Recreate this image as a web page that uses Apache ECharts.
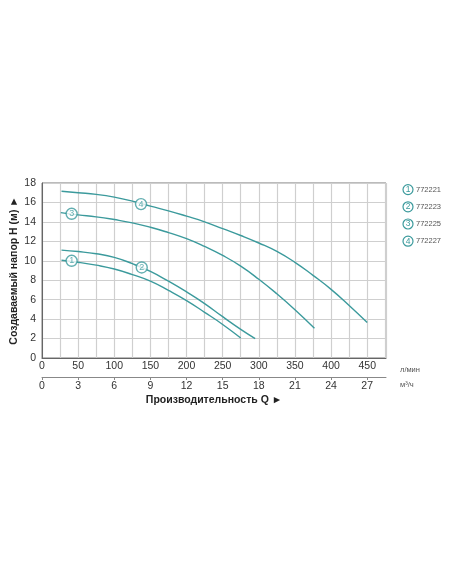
<!DOCTYPE html>
<html>
<head>
<meta charset="utf-8">
<script src="https://cdn.jsdelivr.net/npm/echarts@6/dist/echarts.min.js"></script>
<style>
html,body{margin:0;padding:0;background:#fff;}
#chart{width:452px;height:584px;}
</style>
</head>
<body>
<div id="chart"></div>
<script>
// ---- data ----
const seriesNames = ['772221', '772223', '772225', '772227'];
const curve1 = [[27,10.05],[50,9.85],[75,9.55],[100,9.15],[125,8.58],[150,7.9],[175,6.95],[200,5.9],[225,4.7],[250,3.45],[275,2.05]];
const curve2 = [[27,11.1],[50,10.95],[75,10.72],[100,10.35],[125,9.7],[150,8.9],[175,7.9],[200,6.8],[225,5.6],[250,4.25],[275,2.95],[295,2.0]];
const curve3 = [[26,14.95],[50,14.72],[75,14.52],[100,14.24],[125,13.9],[150,13.45],[175,12.9],[200,12.28],[225,11.48],[250,10.55],[275,9.45],[300,8.1],[325,6.6],[350,4.97],[377,3.06]];
const curve4 = [[27,17.15],[50,17.0],[75,16.83],[100,16.55],[125,16.14],[150,15.62],[175,15.14],[200,14.59],[225,14.0],[250,13.3],[275,12.6],[300,11.83],[325,10.96],[350,9.84],[375,8.5],[400,7.06],[425,5.4],[450,3.65]];
const curveTags = ['1', '2', '3', '4'];
const tagPoints = [[41,10.0],[138,9.31],[41,14.83],[137,15.83]];
const flowMaxLpm = 476;          // л/мин axis max
const lpmPerM3h = 1000 / 60;     // 1 м³/ч = 16.67 л/мин
const yTitle = 'Создаваемый напор H (м) ►';
const xTitle = 'Производительность Q ►';
const unitLpm = 'л/мин';
const unitM3h = 'м³/ч';

// ---- chart ----
const TEAL = '#3b9a9c';
const FONT = '"Liberation Sans", Arial, sans-serif';
const curves = [curve1, curve2, curve3, curve4];
const chart = echarts.init(document.getElementById('chart'), null, {renderer: 'canvas'});

const lineSeries = curves.map((c, i) => ({
  name: seriesNames[i],
  type: 'line',
  data: c,
  smooth: 0.5,
  symbol: 'none',
  lineStyle: {color: TEAL, width: 1.4},
  itemStyle: {color: TEAL},
  z: 3
}));

const tagSeries = {
  name: 'tags',
  type: 'scatter',
  data: tagPoints.map((p, i) => ({value: p, tag: curveTags[i]})),
  symbol: 'circle',
  symbolSize: 11,
  itemStyle: {color: '#ffffff', borderColor: TEAL, borderWidth: 1.4},
  label: {
    show: true, position: 'inside',
    formatter: p => p.data.tag,
    color: TEAL, fontSize: 9, fontFamily: FONT
  },
  z: 5
};

chart.setOption({
  animation: false,
  backgroundColor: '#ffffff',
  textStyle: {fontFamily: FONT},
  grid: {left: 42, top: 183, right: 66, bottom: 226, show: true, borderColor: '#777', borderWidth: 1,
         containLabel: false, outerBoundsMode: 'none'},
  legend: {
    data: seriesNames,
    orient: 'vertical',
    left: 392,
    top: 179,
    itemGap: 6,
    icon: 'rect',
    itemWidth: 1,
    itemHeight: 1,
    itemStyle: {opacity: 0},
    selectedMode: false,
    formatter: name => '{n|' + curveTags[seriesNames.indexOf(name)] + '}{t|' + name + '}',
    textStyle: {
      rich: {
        n: {width: 10, height: 10, lineHeight: 10, borderRadius: 6, borderColor: TEAL, borderWidth: 1.2,
            align: 'center', color: TEAL, fontSize: 8.5, fontFamily: FONT},
        t: {fontSize: 7.5, color: '#555', fontFamily: FONT, padding: [0, 0, 0, 3]}
      }
    }
  },
  xAxis: [
    {
      type: 'value', min: 0, max: flowMaxLpm, interval: 25,
      axisLine: {show: true, lineStyle: {color: '#666'}},
      axisTick: {show: false},
      axisLabel: {
        formatter: v => (v % 50 === 0 ? String(v) : ''),
        color: '#333', fontSize: 10.5, margin: 3, fontFamily: FONT, showMaxLabel: false
      },
      splitLine: {show: true, lineStyle: {color: '#cfcfcf', width: 1.2}}
    },
    {
      type: 'value', position: 'bottom', offset: 19,
      min: 0, max: flowMaxLpm / lpmPerM3h, interval: 3,
      axisLine: {show: true, lineStyle: {color: '#888'}},
      axisTick: {show: true, length: 3, lineStyle: {color: '#888'}},
      axisLabel: {color: '#333', fontSize: 10.5, margin: 4, fontFamily: FONT, showMaxLabel: false,
                  formatter: v => (Math.abs(v - Math.round(v)) < 1e-6 ? String(Math.round(v)) : '')},
      splitLine: {show: false},
      name: xTitle, nameLocation: 'middle', nameGap: 18, nameMoveOverlap: false,
      nameTextStyle: {fontWeight: 'bold', fontSize: 10.5, color: '#222', fontFamily: FONT}
    }
  ],
  yAxis: {
    type: 'value', min: 0, max: 18, interval: 2,
    axisLine: {show: true, lineStyle: {color: '#666'}},
    axisTick: {show: false},
    axisLabel: {color: '#333', fontSize: 10.5, margin: 6, fontFamily: FONT},
    splitLine: {show: true, lineStyle: {color: '#cfcfcf', width: 1.2}},
    name: yTitle, nameLocation: 'middle', nameGap: 22, nameMoveOverlap: false,
    nameTextStyle: {fontWeight: 'bold', fontSize: 10.5, color: '#222', fontFamily: FONT}
  },
  graphic: [
    {type: 'text', left: 400, top: 366, style: {text: unitLpm, fontSize: 7.5, fill: '#555', fontFamily: FONT}},
    {type: 'text', left: 400, top: 381, style: {text: unitM3h, fontSize: 7.5, fill: '#555', fontFamily: FONT}}
  ],
  series: lineSeries.concat([tagSeries])
});
</script>
</body>
</html>
